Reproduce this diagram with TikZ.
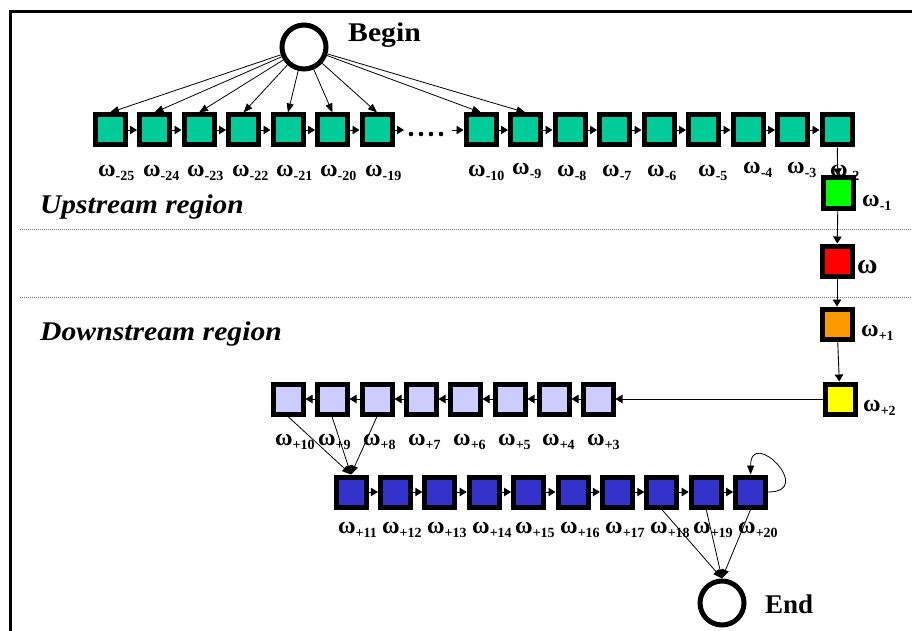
\documentclass[tikz,border=0pt]{standalone}
\usepackage{fontspec}
\setmainfont{Liberation Serif}
\usetikzlibrary{arrows.meta}

\definecolor{upteal}{HTML}{00CC99}
\definecolor{pregreen}{HTML}{00FF00}
\definecolor{curred}{HTML}{FF0000}
\definecolor{postorange}{HTML}{FF9900}
\definecolor{postyellow}{HTML}{FFFF00}
\definecolor{downlav}{HTML}{CCCCFF}
\definecolor{downblue}{HTML}{3333CC}

% omega with a bold subscript
\newcommand\om[1]{{\fontsize{24}{24}\selectfont\bfseries ω}\raisebox{-4pt}{\fontsize{14}{14}\selectfont\bfseries #1}}

\tikzset{
  sq/.style={rectangle, draw=black, line width=5pt, minimum size=30pt, inner sep=0pt},
  state/.style={circle, draw=black, line width=5pt, minimum size=44pt, inner sep=0pt},
  link/.style={-{Triangle[length=7pt,width=8.5pt]}, line width=0.9pt},
  fan/.style={-{Triangle[length=9pt,width=7pt]}, line width=0.8pt},
  lab/.style={inner sep=0pt, anchor=base west},
  region/.style={inner sep=0pt, anchor=base west, font=\fontsize{27}{27}\selectfont\bfseries\itshape},
  sep/.style={gray, line width=0.8pt, dash pattern=on 1pt off 1pt}
}

\begin{document}
\begin{tikzpicture}[x=1pt,y=-1pt]
\useasboundingbox (0,0) rectangle (912,631);

% frame
\draw[line width=3pt] (10,633) -- (10,12) -- (914,12);

% region separators
\draw[sep] (20,229) -- (912,229);
\draw[sep] (20,297) -- (912,297);

\node[region] (up) at (40,213) {\scalebox{1.09}[1]{Upstream region}};
\node[region] (down) at (40,340) {\scalebox{1.1}[1]{Downstream region}};

% begin / end states
\node[state] (begin) at (304,47) {};
\node[inner sep=0pt, anchor=base west, font=\fontsize{27}{27}\selectfont\bfseries] (beginlab) at (348,42) {\scalebox{1.1}[1]{Begin}};
\node[state] (end) at (722,603) {};
\node[inner sep=0pt, anchor=base west, font=\fontsize{27}{27}\selectfont\bfseries] (endlab) at (765,613) {End};

% upstream row
\foreach \i/\x in {25/110,24/154.5,23/199,22/243.5,21/288,20/332.5,19/377,
                   10/481,9/525.5,8/570,7/614.5,6/659,5/703.5,4/748,3/792.5,2/837}
  \node[sq, fill=upteal] (t\i) at (\x,130) {};
\foreach \i/\x/\y in {25/98/176,24/143/176,23/187/176,22/232/176,21/276/176,20/320/176,19/365/176,
                   10/468/176,9/512/175,8/557/177,7/602/176,6/647/176,5/698/177,4/743/174,3/787/174,2/830/176}
  \node[lab] (lt\i) at (\x,\y) {\om{-\i}};

\foreach \a/\b in {25/24,24/23,23/22,22/21,21/20,20/19,10/9,9/8,8/7,7/6,6/5,5/4,4/3,3/2}
  \draw[link] (t\a) -- (t\b);

% gap in the upstream row
\coordinate (gapin) at (404,130);
\coordinate (gapout) at (452,130);
\draw[link] (t19) -- (gapin);
\foreach \x in {411,421,431,441}
  \fill (\x,134) circle (2.3pt);
\draw[link] (gapout) -- (t10);

% begin fans out
\foreach \i in {25,24,23,22,21,20,19,10,9}
  \draw[fan] (begin) -- (t\i.north);

% central column
\node[sq, fill=pregreen] (m1) at (838,193) {};
\node[sq, fill=curred] (w0) at (837,261) {};
\node[sq, fill=postorange] (p1) at (837,324) {};
\node[sq, fill=postyellow] (p2) at (840,399) {};
\node[lab] (lm1) at (862,206) {\om{-1}};
\node[lab, font=\fontsize{28}{28}\selectfont\bfseries] (lw0) at (857,273) {ω};
\node[lab] (lp1) at (861,336) {\om{+1}};
\node[lab] (lp2) at (863,411) {\om{+2}};

\draw[link] (t2) -- (m1);
\draw[link] (m1) -- (w0);
\draw[link] (w0) -- (p1);
\draw[link] (p1) -- (p2);

% downstream row, right to left
\foreach \i/\x in {10/288,9/332,8/377,7/421,6/465,5/510,4/554,3/598}
  \node[sq, fill=downlav] (l\i) at (\x,399) {};
\foreach \i/\x in {10/275,9/318,8/363,7/408,6/453,5/498,4/542,3/587}
  \node[lab] (ll\i) at (\x,445) {\om{+\i}};
\draw[link] (p2) -- (l3);
\foreach \a/\b in {3/4,4/5,5/6,6/7,7/8,8/9,9/10}
  \draw[link] (l\a) -- (l\b);

% last row
\foreach \i/\x in {11/351,12/395.4,13/439.8,14/484.2,15/528.6,16/573,17/617.4,18/661.8,19/706.2,20/750.6}
  \node[sq, fill=downblue] (b\i) at (\x,492) {};
\foreach \i/\x in {11/338,12/382,13/427,14/472,15/515,16/560,17/605,18/650,19/693,20/738}
  \node[lab] (lb\i) at (\x,533) {\om{+\i}};
\foreach \a/\b in {11/12,12/13,13/14,14/15,15/16,16/17,17/18,18/19,19/20}
  \draw[link] (b\a) -- (b\b);

\foreach \i in {10,9,8}
  \draw[fan] (l\i.south) -- (b11.north);
\foreach \i in {18,19,20}
  \draw[fan] (b\i.south) -- (end.north);

% self loop on the final state
\draw[fan] (b20.east) .. controls +(48,0) and +(0,-48) .. (b20.north);
\end{tikzpicture}
\end{document}
